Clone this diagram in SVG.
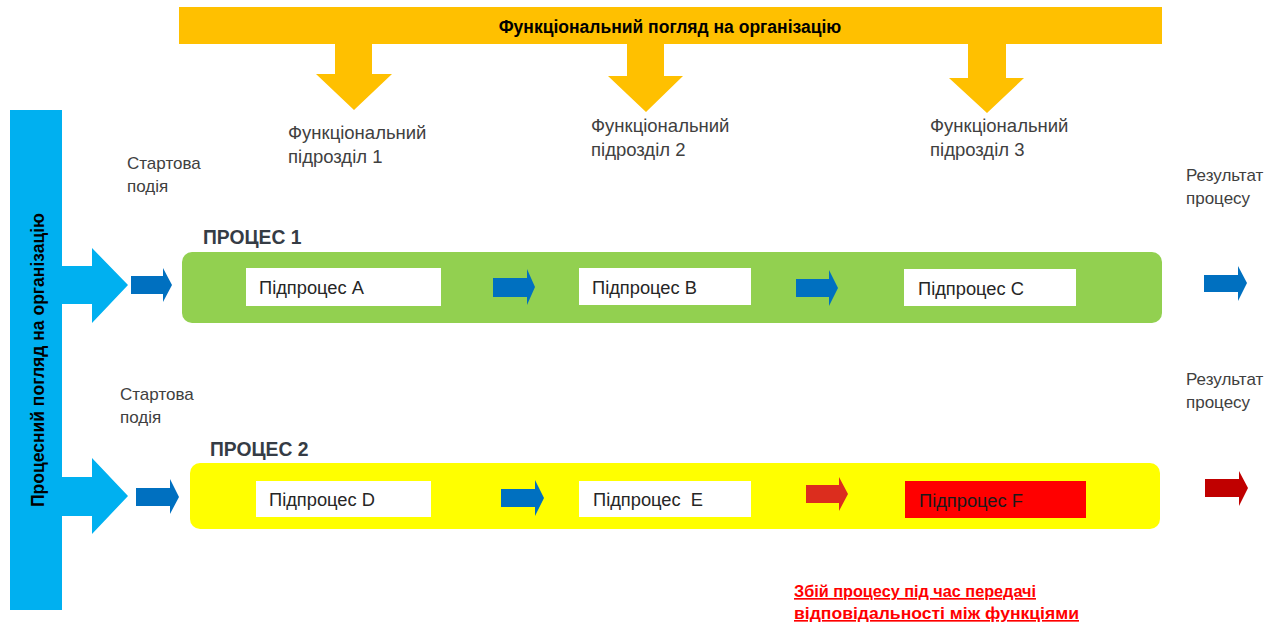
<svg xmlns="http://www.w3.org/2000/svg" width="1279" height="623" viewBox="0 0 1279 623">
<style>
.t{font-family:"Liberation Sans",Arial,sans-serif;font-size:17px;fill:#404040}
.f{font-family:"Liberation Sans",Arial,sans-serif;font-size:18.5px;fill:#404040}
.s{font-family:"Liberation Sans",Arial,sans-serif;font-size:18.3px;fill:#262626}
.h{font-family:"Liberation Sans",Arial,sans-serif;font-size:19.3px;font-weight:bold;fill:#353c45}
.b{font-family:"Liberation Sans",Arial,sans-serif;font-weight:bold;fill:#000}
.n{font-family:"Liberation Sans",Arial,sans-serif;font-weight:bold;font-size:16.5px;fill:#FF0000;text-decoration:underline}
.blue{fill:#0070C0}
.red{fill:#DC2D1E}
.dred{fill:#C00000}
.ylw{fill:#FFC000}
.cyan{fill:#00B0F0}
.box{fill:#fff}
</style>
<g id="functional-view">
<rect class="ylw" x="179" y="7" width="983" height="37"/>
<polygon class="ylw" points="335,44 372,44 372,74 392,74 354,110 316,74 335,74"/>
<polygon class="ylw" points="627,44 664,44 664,76 683,76 646,112 608,76 627,76"/>
<polygon class="ylw" points="968,44 1006,44 1006,78 1024,78 987,113 949,78 968,78"/>
<text class="b" x="670" y="33" font-size="17.5" text-anchor="middle">Функціональний погляд на організацію</text>
</g>
<g id="process-view">
<rect class="cyan" x="10" y="110" width="52" height="500"/>
<polygon class="cyan" points="62,266 92,266 92,248 128,285 92,323 92,304 62,304"/>
<polygon class="cyan" points="62,477 92,477 92,458 128,496 92,534 92,516 62,516"/>
<text class="b" x="0" y="0" font-size="17.5" text-anchor="middle" transform="translate(44,360) rotate(-90)">Процесний погляд на організацію</text>
</g>
<g id="labels">
<text class="f" x="288" y="139">Функціональний</text>
<text class="f" x="288" y="163">підрозділ 1</text>
<text class="f" x="591" y="132">Функціональний</text>
<text class="f" x="591" y="156">підрозділ 2</text>
<text class="f" x="930" y="132">Функціональний</text>
<text class="f" x="930" y="156">підрозділ 3</text>
<text class="t" x="127" y="169">Стартова</text>
<text class="t" x="127" y="192">подія</text>
<text class="t" x="120" y="400">Стартова</text>
<text class="t" x="120" y="423">подія</text>
<text class="t" x="1186" y="181">Результат</text>
<text class="t" x="1186" y="204">процесу</text>
<text class="t" x="1186" y="385">Результат</text>
<text class="t" x="1186" y="408">процесу</text>
</g>
<g id="process1">
<rect x="182" y="252" width="980" height="71" rx="10" fill="#92D050"/>
<text class="h" x="203" y="244">ПРОЦЕС 1</text>
</g>
<g id="subA"><rect class="box" x="246" y="268" width="195" height="38"/><text class="s" x="259" y="294">Підпроцес А</text></g>
<g id="subB"><rect class="box" x="579" y="268" width="172" height="37"/><text class="s" x="592" y="294">Підпроцес В</text></g>
<g id="subC"><rect class="box" x="904" y="269" width="172" height="37"/><text class="s" x="918" y="295">Підпроцес С</text></g>
<g id="process2">
<rect x="190" y="463" width="970" height="66" rx="10" fill="#FFFF00"/>
<text class="h" x="210" y="456">ПРОЦЕС 2</text>
</g>
<g id="subD"><rect class="box" x="256" y="481" width="175" height="36"/><text class="s" x="269" y="506">Підпроцес D</text></g>
<g id="subE"><rect class="box" x="579" y="481" width="172" height="36"/><text class="s" x="593" y="506" xml:space="preserve">Підпроцес  Е</text></g>
<g id="subF"><rect x="905" y="481" width="181" height="37" fill="#FF0000"/><text class="s" x="919" y="507" style="fill:#1a1a1a">Підпроцес F</text></g>
<g id="connectors">
<polygon class="blue" points="131,276 163,276 163,268 172,285 163,302 163,294 131,294"/>
<polygon class="blue" points="136,488 170,488 170,479 179,497 170,514 170,506 136,506"/>
<polygon class="blue" points="493,278 527,278 527,269 535,287 527,305 527,297 493,297"/>
<polygon class="blue" points="796,279 829,279 829,270 838,288 829,306 829,297 796,297"/>
<polygon class="blue" points="1204,275 1238,275 1238,266 1247,283 1238,301 1238,292 1204,292"/>
<polygon class="blue" points="501,489 535,489 535,480 544,498 535,516 535,507 501,507"/>
<polygon class="red" points="806,485 839,485 839,477 848,494 839,511 839,503 806,503"/>
<polygon class="dred" points="1205,479 1239,479 1239,471 1248,488 1239,506 1239,497 1205,497"/>
</g>
<g id="note">
<text class="n" x="794" y="597" textLength="242" lengthAdjust="spacingAndGlyphs">Збій процесу під час передачі</text>
<text class="n" x="794" y="619" textLength="285" lengthAdjust="spacingAndGlyphs">відповідальності між функціями</text>
</g>
</svg>
